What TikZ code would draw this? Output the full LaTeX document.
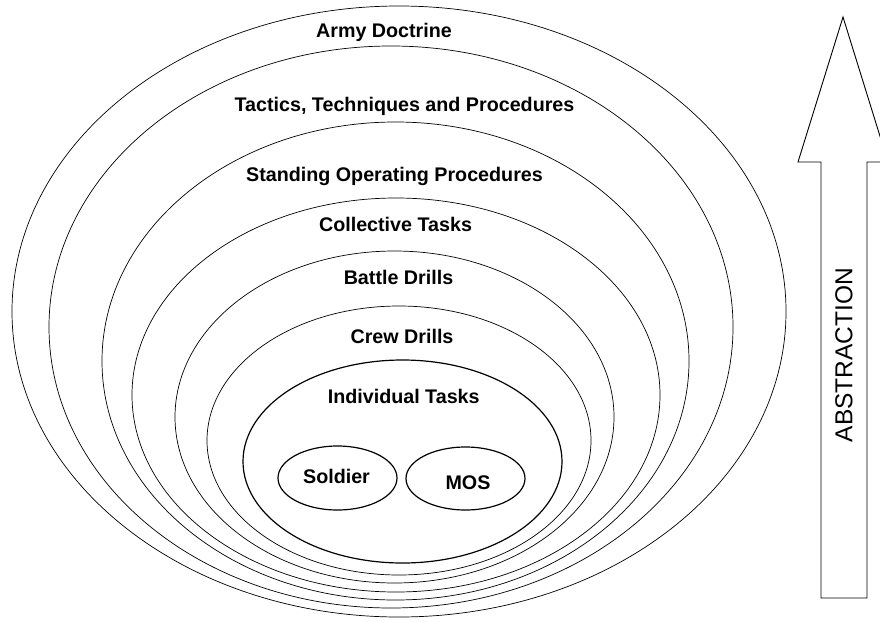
\documentclass[tikz,border=0pt]{standalone}
\usepackage{fontspec}
\setmainfont{Liberation Sans}
\usetikzlibrary{shapes.geometric}
\begin{document}
\begin{tikzpicture}[x=1pt,y=-1pt,
  ring/.style={draw, line width=0.7pt, ellipse, inner sep=0pt},
  core/.style={ring, line width=1.2pt},
  lvl/.style={anchor=base, inner sep=0pt, font=\fontsize{19.7}{22}\selectfont\bfseries},
  axis/.style={inner sep=0pt, font=\fontsize{24.5}{28}\selectfont, rotate=90}]
\clip (0,0) rectangle (880,621);
\fill[white] (0,0) rectangle (880,621);

% nested levels, all resting near the bottom
\node[ring, minimum width=774pt, minimum height=611pt] (doctrine) at (399,311.5) {};
\node[ring, minimum width=684pt, minimum height=562pt] (ttp)      at (391,327) {};
\node[ring, minimum width=587pt, minimum height=478pt] (sop)      at (395.5,361) {};
\node[ring, minimum width=528pt, minimum height=394pt] (coll)     at (396,395) {};
\node[ring, minimum width=439pt, minimum height=332pt] (battle)   at (394.5,417) {};
\node[ring, minimum width=384pt, minimum height=269pt] (crew)     at (399,440.5) {};
\node[core, minimum width=319pt, minimum height=203pt] (indiv)    at (402.5,461.5) {};
\node[core, minimum width=119pt, minimum height=64pt]  (soldier)  at (337.5,478) {};
\node[core, minimum width=119pt, minimum height=63pt]  (mos)      at (465.5,478.5) {};

% level titles
\node[lvl] (tDoctrine) at (384,37)  {Army Doctrine};
\node[lvl] (tTtp)      at (404.5,111) {Tactics, Techniques and Procedures};
\node[lvl] (tSop)      at (394.5,181.7) {Standing Operating Procedures};
\node[lvl] (tColl)     at (395.5,231) {Collective Tasks};
\node[lvl] (tBattle)   at (398.5,284) {Battle Drills};
\node[lvl] (tCrew)     at (402,343) {Crew Drills};
\node[lvl] (tIndiv)    at (403.7,403.3) {Individual Tasks};
\node[lvl] (tSoldier)  at (336.5,483) {Soldier};
\node[lvl] (tMos)      at (468,489) {MOS};

% hollow arrow on the right
\draw[line width=0.9pt, line join=miter]
  (821,598) -- (821,162) -- (798,162) -- (843,17) -- (888,162)
  -- (867,162) -- (867,598) -- cycle;
\node[axis] (abstraction) at (844,355) {ABSTRACTION};
\end{tikzpicture}
\end{document}
